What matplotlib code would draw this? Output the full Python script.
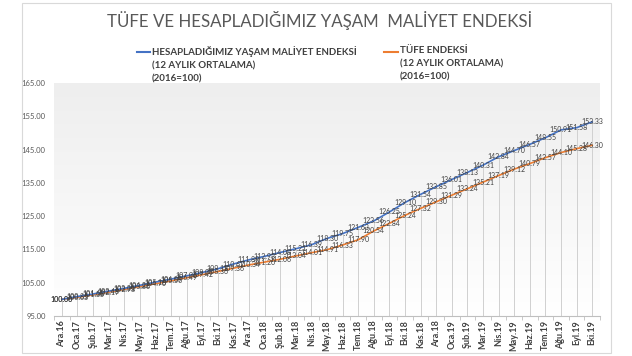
import numpy as np
import matplotlib
matplotlib.use("Agg")
import matplotlib.pyplot as plt
from matplotlib.lines import Line2D
from matplotlib.patches import Rectangle

plt.rcParams['font.family'] = ['Lato', 'DejaVu Sans']

months = ['Ara.16', 'Oca.17', 'Şub.17', 'Mar.17', 'Nis.17', 'May.17', 'Haz.17', 'Tem.17',
          'Ağu.17', 'Eyl.17', 'Eki.17', 'Kas.17', 'Ara.17', 'Oca.18', 'Şub.18', 'Mar.18',
          'Nis.18', 'May.18', 'Haz.18', 'Tem.18', 'Ağu.18', 'Eyl.18', 'Eki.18', 'Kas.18',
          'Ara.18', 'Oca.19', 'Şub.19', 'Mar.19', 'Nis.19', 'May.19', 'Haz.19', 'Tem.19',
          'Ağu.19', 'Eyl.19', 'Eki.19']

# hesapladığımız yaşam maliyet endeksi (mavi)
yasam = [100.00, 100.85, 101.62, 102.48, 103.31, 104.22, 105.18, 106.09,
         107.06, 108.07, 109.18, 110.62, 111.89, 112.93, 114.08, 115.21,
         116.39, 118.30, 119.75, 121.63, 123.56, 126.25, 129.10, 131.54,
         133.85, 136.01, 138.13, 140.31, 142.84, 144.70, 146.57, 148.55,
         150.91, 151.58, 153.33]

# tüfe endeksi (turuncu)
tufe = [100.00, 100.63, 101.35, 102.17, 102.98, 103.86, 104.70, 105.56,
        106.49, 107.42, 108.36, 109.36, 110.34, 111.20, 112.06, 113.04,
        114.01, 114.91, 116.33, 117.90, 120.54, 122.84, 125.24, 127.32,
        129.30, 131.29, 133.24, 135.21, 137.19, 139.12, 140.79, 142.57,
        144.10, 145.28, 146.30]

legend_labels = ['HESAPLADIĞIMIZ YAŞAM MALİYET ENDEKSİ\n(12 AYLIK ORTALAMA)\n(2016=100)',
                 'TÜFE ENDEKSİ\n(12 AYLIK ORTALAMA)\n(2016=100)']

blue = '#4472c4'
orange = '#ed7d31'
txt = '#595959'

fig = plt.figure(figsize=(6.32, 3.56), dpi=100)
fig.patch.set_facecolor('white')
fig.add_artist(Rectangle((22 / 632, 3 / 356), 589 / 632, 350 / 356, transform=fig.transFigure,
                         fill=False, edgecolor='#d9d9d9', linewidth=0.8))

ax = fig.add_axes([54 / 632, 1 - 316 / 356, 546 / 632, 233 / 356])
x = np.arange(len(months))

# arka plan degrade
grad = np.linspace(1, 0, 256).reshape(-1, 1)
ax.imshow(grad, extent=[-0.5, len(months) - 0.5, 95, 165], aspect='auto',
          cmap=matplotlib.colors.LinearSegmentedColormap.from_list('g', ['#ffffff', '#eeeeee']),
          vmin=0, vmax=1, zorder=0)

# dikey düşüş çizgileri
tops = np.maximum(yasam, tufe)
ax.vlines(x, 95, tops, color='#d0d0d0', linewidth=0.7, zorder=1)

ax.plot(x, tufe, color=orange, linewidth=1.2, zorder=3)
ax.plot(x, yasam, color=blue, linewidth=1.2, zorder=4)

for xi, v in zip(x, yasam):
    ax.text(xi, v, f'{v:.2f}', fontsize=5, color='#404040', ha='center', va='center', zorder=5)
for xi, v in zip(x, tufe):
    ax.text(xi, v, f'{v:.2f}', fontsize=5, color='#404040', ha='center', va='center', zorder=5)

ax.set_xlim(-0.5, len(months) - 0.5)
ax.set_ylim(95, 165)
ax.set_yticks(np.arange(95, 166, 10))
ax.set_yticklabels([f'{v:.2f}' for v in np.arange(95, 166, 10)], fontsize=5.5, color=txt)
ax.set_xticks(x)
ax.set_xticklabels(months, rotation=90, fontsize=6.5, color='#404040', fontweight='bold')
ax.set_xticks(np.arange(-0.5, len(months), 1), minor=True)
ax.tick_params(axis='x', which='major', length=0, pad=3)
ax.tick_params(axis='x', which='minor', length=3, color='#bfbfbf')
ax.tick_params(axis='y', length=0, pad=6)
for s in ['top', 'right', 'left']:
    ax.spines[s].set_visible(False)
ax.spines['bottom'].set_color('#bfbfbf')
ax.spines['bottom'].set_linewidth(0.8)

fig.text(320 / 632, 1 - 20 / 356, 'TÜFE VE HESAPLADIĞIMIZ YAŞAM  MALİYET ENDEKSİ',
         fontsize=12.2, color=txt, ha='center', va='center')

# lejant
for (x0, x1, tx), lab, c in zip([(137, 150, 152), (384, 398, 400)], legend_labels, [blue, orange]):
    fig.add_artist(Line2D([x0 / 632, x1 / 632], [1 - 52 / 356, 1 - 52 / 356],
                          transform=fig.transFigure, color=c, linewidth=1.5))
    fig.text(tx / 632, 1 - 46 / 356, lab, fontsize=7, color='#404040', ha='left', va='top',
             linespacing=1.6, fontweight='bold')

fig.savefig('out.png', dpi=100)
